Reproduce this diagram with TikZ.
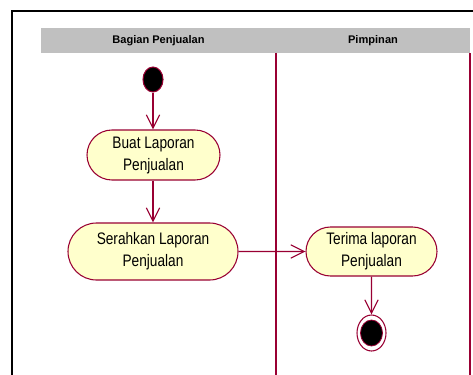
\documentclass[tikz,border=0pt]{standalone}
\usepackage{fontspec}
\setmainfont{Liberation Sans}
\newfontfamily\narrowfont[FakeStretch=0.82]{Liberation Sans}
\usetikzlibrary{shapes.misc,shapes.geometric,arrows.meta}
\definecolor{umlred}{HTML}{990033}
\definecolor{umlfill}{HTML}{FFFFCC}
\definecolor{hdrgray}{HTML}{C0C0C0}
\begin{document}
\begin{tikzpicture}[x=0.75pt,y=-0.75pt,
  actbox/.style={rounded rectangle, draw=umlred, fill=umlfill, line width=0.8pt,
    align=center, inner sep=0pt, font=\narrowfont\fontsize{12.5}{16.5}\selectfont},
  flow/.style={draw=umlred, line width=0.9pt, -{Straight Barb[length=10pt,width=10pt]}},
  lane/.style={draw=umlred, line width=0.9pt},
  hdr/.style={font=\bfseries\fontsize{8.3}{10}\selectfont},
  startdot/.style={ellipse, fill=black, draw=umlred, line width=0.8pt, inner sep=0pt},
  endring/.style={ellipse, draw=umlred, fill=white, line width=0.8pt, inner sep=0pt}]
\useasboundingbox (0,0) rectangle (473,374);
\clip (0,0) rectangle (473,374);
\fill[white] (0,0) rectangle (473,374);
\fill[hdrgray] (41,28) rectangle (470,53);
\node[hdr] (h1) at (158.5,40.5) {Bagian Penjualan};
\node[hdr] (h2) at (373,40.5) {Pimpinan};
\draw[lane] (276,53) -- (276,380);
\draw[lane] (470,53) -- (470,380);
\draw[black, line width=1.5pt] (12,380) -- (12,11) -- (480,11);
\node[startdot, minimum width=15pt, minimum height=18.75pt] (start) at (153,79.5) {};
\node[actbox, minimum width=99.75pt, minimum height=37.5pt] (buat) at (153.5,155) {Buat Laporan\\Penjualan};
\node[actbox, minimum width=127.5pt, minimum height=42.75pt] (serah) at (153,251.5) {Serahkan Laporan\\Penjualan};
\node[actbox, minimum width=98.25pt, minimum height=36.75pt] (terima) at (371.5,251.5) {Terima laporan\\Penjualan};
\node[endring, minimum width=21.75pt, minimum height=27pt] (end) at (371.5,333) {};
\node[startdot, line width=0.6pt, minimum width=16.5pt, minimum height=19.5pt] (endin) at (end.center) {};
\draw[flow] (start) -- (start |- buat.north);
\draw[flow] (buat.south -| start) -- (start |- serah.north);
\draw[flow] (serah) -- (terima);
\draw[flow] (terima) -- (end);
\end{tikzpicture}
\end{document}
